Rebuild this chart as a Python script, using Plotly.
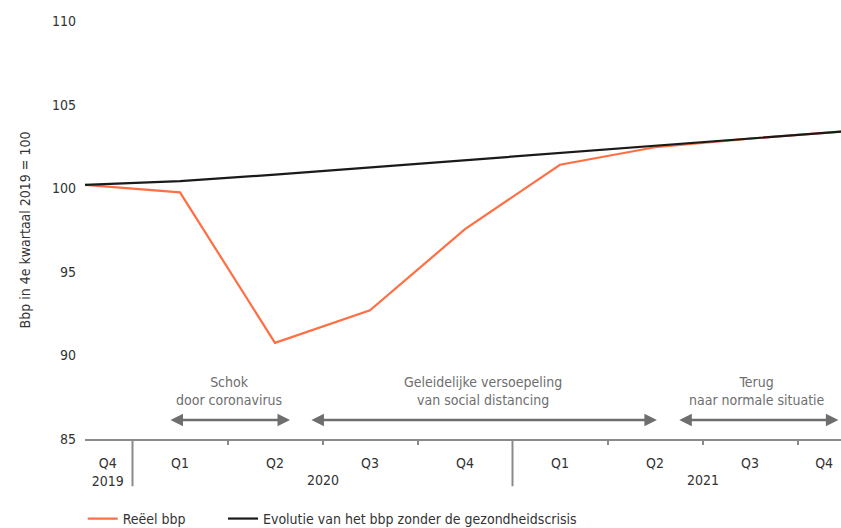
import plotly.graph_objects as go

# Quarter index: 0 = Q4 2019 ... 8 = Q4 2021
quarters = [0, 1, 2, 3, 4, 5, 6, 7, 8]
reeel_bbp = [100.2, 99.75, 90.75, 92.7, 97.55, 101.4, 102.45, 102.97, 103.4]
zonder_crisis = [100.2, 100.42, 100.81, 101.24, 101.67, 102.11, 102.54, 102.97, 103.4]

# Axis labels
quarter_tick_pos = [0.24, 1, 2, 3, 4, 5, 6, 7, 7.78]
quarter_tick_text = ["Q4<br>2019", "Q1", "Q2", "Q3", "Q4", "Q1", "Q2", "Q3", "Q4"]
quarter_separators = [1.5, 2.5, 3.5, 5.5, 6.5, 7.5]
year_separators = [0.5, 4.5]
year_labels = ["2020", "2021"]
year_label_pos = [2.5, 6.5]

# Phases of the crisis: (start, end, label, label centre)
phases = [
    (0.884, 2.158, "Schok<br>door coronavirus", 1.516),
    (2.368, 6.02, "Geleidelijke versoepeling<br>van social distancing", 4.19),
    (6.24, 7.93, "Terug<br>naar normale situatie", 7.07),
]

FONT = "DejaVu Sans Condensed, Liberation Sans Narrow, Arial Narrow, sans-serif"
FS = 14
ORANGE = "#ff6f43"
BLACK = "#1a1a1a"
GREY = "#6e6e6e"
AXIS_GREY = "#8a8a8a"
TEXT = "#333333"

fig = go.Figure()
fig.add_trace(go.Scatter(x=quarters, y=reeel_bbp, mode="lines", name="Reëel bbp",
                         line=dict(color=ORANGE, width=2.2), legend="legend"))
fig.add_trace(go.Scatter(x=quarters, y=zonder_crisis, mode="lines",
                         name="Evolutie van het bbp zonder de gezondheidscrisis",
                         line=dict(color=BLACK, width=2.2), legend="legend2"))

# Year separators below the axis
for xs in year_separators:
    fig.add_shape(type="line", xref="x", yref="paper", x0=xs, x1=xs, y0=0, y1=-0.113,
                  line=dict(color=AXIS_GREY, width=2))

annotations = []
for lbl, xp in zip(year_labels, year_label_pos):
    annotations.append(dict(x=xp, y=-0.098, xref="x", yref="paper", text=lbl,
                            showarrow=False, yanchor="middle",
                            font=dict(family=FONT, size=FS, color=TEXT)))

for start, end, label, centre in phases:
    annotations.append(dict(x=end, y=86.14, ax=start, ay=86.14, xref="x", yref="y",
                            axref="x", ayref="y", text="", showarrow=True,
                            arrowhead=2, startarrowhead=2, arrowside="end+start",
                            arrowsize=1.0, startarrowsize=1.0, arrowwidth=2.5,
                            arrowcolor=GREY))
    annotations.append(dict(x=centre, y=87.87, xref="x", yref="y", text=label,
                            showarrow=False, yanchor="middle",
                            font=dict(family=FONT, size=FS, color=GREY)))

legend_common = dict(orientation="h", xanchor="left", yanchor="top", y=-0.153,
                     bgcolor="rgba(0,0,0,0)",
                     font=dict(family=FONT, size=FS, color=TEXT))

fig.update_layout(
    width=841, height=528,
    margin=dict(l=85, r=0, t=21, b=89, autoexpand=False),
    paper_bgcolor="white", plot_bgcolor="white",
    font=dict(family=FONT, size=FS, color=TEXT),
    showlegend=True,
    legend=dict(x=-0.003, **legend_common),
    legend2=dict(x=(223 - 85) / 756, **legend_common),
    annotations=annotations,
    xaxis=dict(range=[0, 756 / 95], showgrid=False, zeroline=False,
               showline=True, linecolor=AXIS_GREY, linewidth=2,
               tickmode="array", tickvals=quarter_tick_pos, ticktext=quarter_tick_text,
               ticks="", ticklabelstandoff=10,
               minor=dict(tickmode="array", tickvals=quarter_separators, ticks="outside",
                          ticklen=4, tickcolor=AXIS_GREY, tickwidth=2)),
    yaxis=dict(range=[85, 110], tickvals=[85, 90, 95, 100, 105, 110],
               showgrid=False, zeroline=False, showline=False, ticks="",
               ticklabelstandoff=8,
               title=dict(text="Bbp in 4e kwartaal 2019 = 100", standoff=18,
                          font=dict(family=FONT, size=FS, color=TEXT))),
)

fig.write_html("out.html")
